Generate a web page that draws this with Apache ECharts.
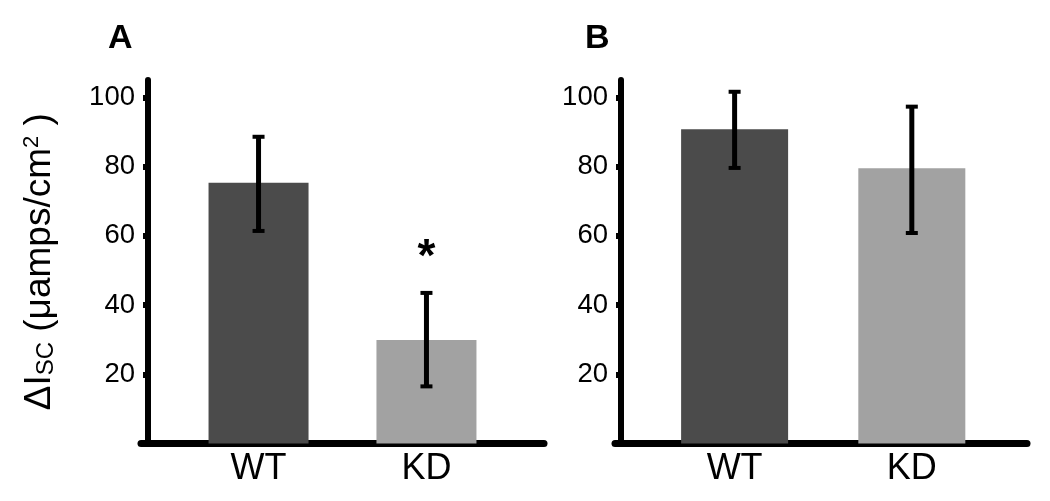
<!DOCTYPE html>
<html>
<head>
<meta charset="utf-8">
<script src="https://cdn.jsdelivr.net/npm/echarts@6/dist/echarts.min.js"></script>
<style>html,body{margin:0;padding:0;background:#fff}#c{width:1050px;height:501px}</style>
</head>
<body>
<div id="c"></div>
<script>
// ---- data ----
const categories = ['WT', 'KD'];
const panelA_mean = [75.3, 29.9];
const panelA_errLow = [61.4, 16.5];
const panelA_errHigh = [88.6, 43.5];
const panelA_sig = ['', '*'];
const panelB_mean = [90.8, 79.5];
const panelB_errLow = [79.6, 60.8];
const panelB_errHigh = [101.6, 97.3];
const panelB_sig = ['', ''];
const yTicks = [20, 40, 60, 80, 100];
const barColors = ['#4b4b4b', '#a2a2a2'];

const FONT = 'Liberation Sans, Arial, Helvetica, sans-serif';

function barData(means) {
  return means.map((v, i) => ({ value: [i, v], itemStyle: { color: barColors[i] } }));
}
function errData(low, high, sig) {
  return low.map((l, i) => [i, l, high[i], sig[i]]);
}
const panelSig = [panelA_sig, panelB_sig];
function renderErr(params, api) {
  const x = api.value(0);
  const lo = api.coord([x, api.value(1)]);
  const hi = api.coord([x, api.value(2)]);
  const sig = panelSig[params.seriesIndex === 1 ? 0 : 1][params.dataIndex];
  const capW = 12, capH = 4;
  const children = [
    { type: 'line', shape: { x1: hi[0], y1: hi[1], x2: lo[0], y2: lo[1] }, style: { stroke: '#000', lineWidth: 5 } },
    { type: 'rect', shape: { x: hi[0] - capW / 2, y: hi[1] - capH / 2, width: capW, height: capH }, style: { fill: '#000' } },
    { type: 'rect', shape: { x: lo[0] - capW / 2, y: lo[1] - capH / 2, width: capW, height: capH }, style: { fill: '#000' } }
  ];
  if (sig) {
    children.push({ type: 'text', style: { text: sig, x: hi[0], y: hi[1] - 12, align: 'center', verticalAlign: 'bottom', fill: '#000', font: 'bold 46px ' + FONT } });
  }
  return { type: 'group', children };
}

function xAxisCfg(gridIndex, min, max) {
  return {
    type: 'value', gridIndex, min, max,
    splitLine: { show: false },
    axisTick: { show: false },
    axisLine: { show: true, onZero: false, lineStyle: { color: '#000', width: 7 } },
    axisLabel: {
      customValues: [0, 1],
      formatter: v => categories[Math.round(v)] || '',
      color: '#000', fontSize: 36, fontFamily: FONT, margin: 8
    }
  };
}
function yAxisCfg(gridIndex, offset, withName) {
  const cfg = {
    type: 'value', gridIndex, min: 0, max: 105, offset,
    splitLine: { show: false },
    axisLine: { show: true, onZero: false, lineStyle: { color: '#000', width: 6 } },
    axisTick: { show: true, customValues: yTicks, length: 5, lineStyle: { color: '#000', width: 6 } },
    axisLabel: { customValues: yTicks, color: '#000', fontSize: 27.5, fontFamily: FONT, margin: 13 }
  };
  if (withName) {
    cfg.name = '{m|ΔI}{s|SC}{m| (μamps/cm}{p|2}{m| )}';
    cfg.nameLocation = 'middle';
    cfg.nameGap = 90;
    cfg.nameRotate = 90;
    cfg.nameTextStyle = {
      rich: {
        m: { fontSize: 37, fontFamily: FONT, color: '#000' },
        s: { fontSize: 24, fontFamily: FONT, color: '#000', verticalAlign: 'bottom', padding: [12, 0, 0, 0] },
        p: { fontSize: 22, fontFamily: FONT, color: '#000', verticalAlign: 'top', padding: [0, 0, 14, 0] }
      }
    };
  }
  return cfg;
}

const chart = echarts.init(document.getElementById('c'), null, { renderer: 'canvas' });
chart.setOption({
  animation: false,
  backgroundColor: '#fff',
  title: [
    { text: 'A', left: 103, top: 17, textStyle: { fontSize: 34, fontWeight: 'bold', fontFamily: FONT, color: '#000' } },
    { text: 'B', left: 580, top: 17, textStyle: { fontSize: 34, fontWeight: 'bold', fontFamily: FONT, color: '#000' } }
  ],
  grid: [
    { left: 141, right: 506, top: 80, bottom: 57.5 },
    { left: 615, right: 23, top: 80, bottom: 57.5 }
  ],
  xAxis: [xAxisCfg(0, -0.70, 1.70), xAxisCfg(1, -0.675, 1.65)],
  yAxis: [yAxisCfg(0, -7, true), yAxisCfg(1, -6, false)],
  series: [
    { type: 'bar', xAxisIndex: 0, yAxisIndex: 0, barWidth: 100, data: barData(panelA_mean) },
    { type: 'custom', xAxisIndex: 0, yAxisIndex: 0, renderItem: renderErr, data: errData(panelA_errLow, panelA_errHigh, panelA_sig), z: 5 },
    { type: 'bar', xAxisIndex: 1, yAxisIndex: 1, barWidth: 107, data: barData(panelB_mean) },
    { type: 'custom', xAxisIndex: 1, yAxisIndex: 1, renderItem: renderErr, data: errData(panelB_errLow, panelB_errHigh, panelB_sig), z: 5 }
  ]
});
</script>
</body>
</html>
